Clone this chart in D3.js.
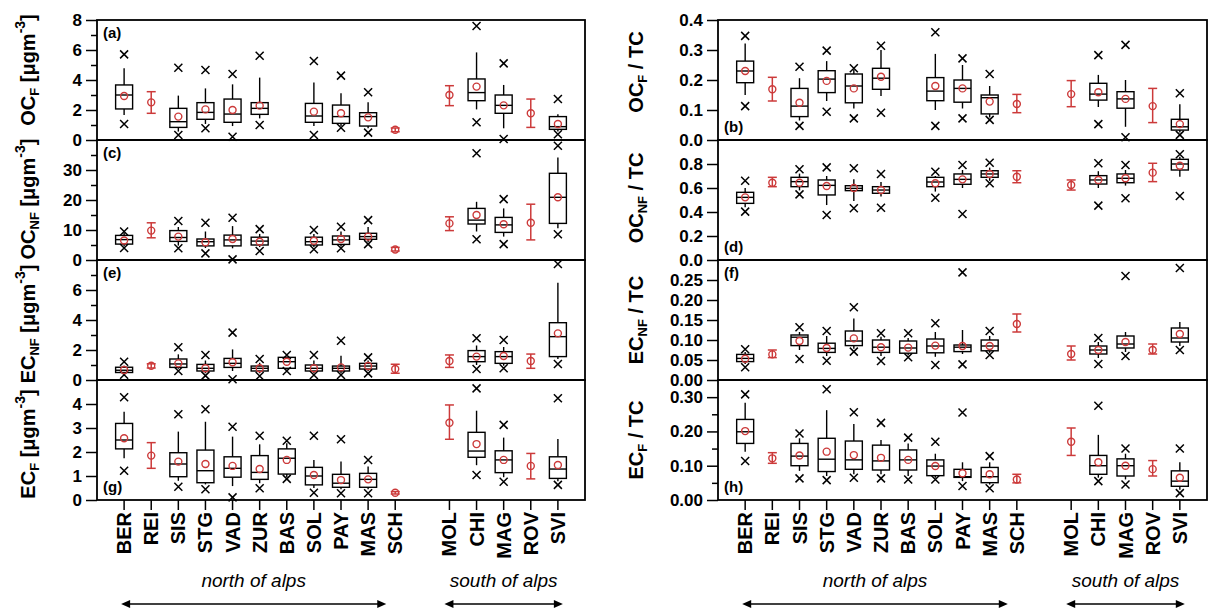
<!DOCTYPE html>
<html><head><meta charset="utf-8">
<script src="https://cdn.jsdelivr.net/npm/d3@7"></script>
<style>body{margin:0;background:#fff} svg{display:block} text{font-family:Arial,"Liberation Sans",sans-serif}</style>
</head><body><svg id="c" width="1208" height="612"></svg>
<script>
// stations (a gap slot separates north and south)
const northStations = ["BER","REI","SIS","STG","VAD","ZUR","BAS","SOL","PAY","MAS","SCH"];
const southStations = ["MOL","CHI","MAG","ROV","SVI"];
const stations = northStations.concat(southStations);
// box rows: [lowX, whiskerLo, q1, median, q3, whiskerHi, highX, mean]; 3-value rows: [errLo, mean, errHi]
const ocF = [
 [1.07,1.67,2.07,3.0,3.67,4.78,5.71,2.93],[1.78,2.51,3.22],
 [0.33,0.56,0.84,1.22,2.11,2.96,4.82,1.56],[0.78,1.07,1.38,1.84,2.49,3.44,4.67,2.04],
 [0.22,0.93,1.18,1.73,2.73,3.71,4.4,2.0],[1.0,1.44,1.71,2.11,2.49,4.16,5.62,2.29],null,
 [0.33,0.93,1.18,1.6,2.44,3.84,5.27,1.89],[0.82,0.93,1.11,1.56,2.33,3.11,4.29,1.78],
 [0.49,0.78,0.93,1.56,1.82,2.51,3.18,1.51],[0.55,0.68,0.8],
 [2.29,3.0,3.62],[1.18,2.04,2.62,3.16,4.07,5.84,7.6,3.56],[0.07,0.78,1.78,2.31,3.0,3.67,5.11,2.31],
 [0.84,1.78,2.73],[0.38,0.56,0.71,0.89,1.56,1.71,2.73,1.07]];
const ocNF = [
 [4.0,4.6,5.3,6.8,8.2,9.0,9.5,6.5],[7.4,9.8,12.4],
 [3.9,4.8,6.2,7.5,9.8,11.0,13.0,7.8],[2.2,4.0,4.7,6.1,7.0,9.5,12.4,5.9],
 [0.2,3.9,4.7,6.7,8.3,11.3,14.1,7.0],[3.0,4.3,5.0,6.3,7.6,8.7,10.3,6.1],null,
 [3.6,4.3,5.0,6.1,7.6,8.7,10.0,6.4],[3.9,4.5,5.2,6.7,8.0,9.5,11.1,7.0],
 [5.3,6.0,6.9,7.8,8.9,11.0,13.3,7.8],[3.0,3.5,4.2],
 [9.8,12.2,14.4],[6.9,9.5,12.0,13.3,17.2,19.4,35.6,15.0],[5.3,7.8,9.2,11.7,14.2,17.2,20.3,11.9],
 [6.7,12.4,18.6],[8.6,10.6,12.2,20.9,28.9,34.2,38.1,20.9]];
const ecNF = [
 [0.35,0.42,0.5,0.65,0.85,0.95,1.22,0.67],[0.8,0.95,1.08],
 [0.6,0.75,0.84,1.07,1.4,1.71,2.18,1.11],[0.29,0.45,0.6,0.78,1.04,1.3,1.67,0.78],
 [0.05,0.6,0.84,1.11,1.44,2.04,3.16,1.18],[0.27,0.45,0.6,0.78,0.93,1.15,1.4,0.78],
 [0.6,0.7,0.78,1.22,1.51,1.55,1.67,1.22],
 [0.33,0.45,0.6,0.78,1.0,1.3,1.67,0.78],[0.33,0.45,0.6,0.78,0.93,1.62,2.62,0.84],
 [0.44,0.6,0.73,0.93,1.11,1.3,1.51,0.93],[0.45,0.73,1.05],
 [0.84,1.27,1.67],[0.73,1.0,1.22,1.56,1.96,2.3,2.78,1.56],[0.78,0.95,1.11,1.56,1.89,2.2,2.67,1.6],
 [0.78,1.27,1.73],[1.07,1.4,1.56,2.89,3.82,6.49,7.73,3.11]];
const ecF = [
 [1.22,1.74,2.13,2.5,3.19,3.68,4.28,2.57],[1.32,1.85,2.39],
 [0.55,0.8,0.97,1.5,1.97,2.85,3.57,1.6],[0.45,0.65,0.72,1.22,2.08,3.26,3.78,1.5],
 [0.11,0.58,0.95,1.32,1.8,2.64,3.05,1.42],[0.49,0.7,0.86,1.15,1.85,2.32,2.68,1.29],
 [0.88,0.95,1.08,1.74,2.13,2.36,2.47,1.67],
 [0.3,0.5,0.63,1.0,1.36,1.67,2.68,1.04],[0.28,0.45,0.53,0.7,1.07,1.6,2.53,0.83],
 [0.28,0.45,0.53,0.86,1.11,1.4,1.67,0.86],[0.25,0.3,0.35],
 [2.53,3.22,3.96],[1.04,1.45,1.78,2.04,2.82,3.72,4.65,2.33],[0.76,0.95,1.14,1.67,2.05,2.6,3.13,1.67],
 [0.88,1.42,1.94],[0.63,0.78,0.9,1.29,1.8,2.54,4.24,1.46]];
const ocFtc = [
 [0.113,0.15,0.191,0.23,0.263,0.322,0.347,0.23],[0.13,0.169,0.209],
 [0.047,0.065,0.078,0.113,0.172,0.206,0.244,0.124],[0.094,0.13,0.158,0.203,0.231,0.263,0.298,0.197],
 [0.072,0.105,0.124,0.18,0.22,0.235,0.239,0.172],[0.091,0.147,0.169,0.206,0.239,0.3,0.314,0.211],null,
 [0.047,0.1,0.131,0.163,0.208,0.287,0.359,0.18],[0.072,0.105,0.126,0.172,0.2,0.25,0.272,0.172],
 [0.067,0.075,0.087,0.141,0.15,0.18,0.22,0.128],[0.091,0.12,0.152],
 [0.111,0.153,0.198],[0.053,0.11,0.133,0.153,0.189,0.217,0.283,0.159],[0.009,0.044,0.106,0.137,0.161,0.2,0.317,0.137],
 [0.058,0.113,0.172],[0.017,0.025,0.033,0.044,0.069,0.119,0.156,0.053]];
const ocNFtc = [
 [0.403,0.44,0.472,0.522,0.564,0.6,0.661,0.522],[0.611,0.644,0.689],
 [0.547,0.58,0.611,0.653,0.689,0.72,0.756,0.644],[0.375,0.458,0.542,0.622,0.667,0.7,0.772,0.617],
 [0.431,0.492,0.578,0.597,0.619,0.672,0.764,0.6],[0.436,0.53,0.556,0.583,0.611,0.65,0.717,0.583],null,
 [0.519,0.57,0.611,0.65,0.689,0.7,0.736,0.639],[0.383,0.6,0.631,0.672,0.717,0.75,0.792,0.672],
 [0.639,0.66,0.689,0.717,0.744,0.77,0.81,0.717],[0.644,0.694,0.744],
 [0.583,0.625,0.667],[0.453,0.6,0.633,0.667,0.703,0.74,0.806,0.667],[0.514,0.62,0.644,0.681,0.717,0.75,0.792,0.681],
 [0.653,0.728,0.806],[0.533,0.694,0.75,0.8,0.839,0.86,0.881,0.786]];
const ecNFtc = [
 [0.032,0.04,0.046,0.054,0.064,0.07,0.077,0.053],[0.056,0.064,0.075],
 [0.0525,0.075,0.086,0.107,0.1125,0.12,0.132,0.0975],[0.048,0.06,0.069,0.079,0.092,0.11,0.1225,0.08],
 [0.071,0.078,0.086,0.0975,0.1225,0.154,0.182,0.104],[0.0475,0.06,0.069,0.082,0.1,0.108,0.117,0.082],
 [0.057,0.062,0.067,0.08,0.0975,0.105,0.117,0.081],
 [0.0375,0.058,0.068,0.085,0.1025,0.12,0.142,0.086],[0.039,0.065,0.071,0.082,0.0875,0.125,0.269,0.085],
 [0.0625,0.068,0.073,0.085,0.1,0.11,0.1225,0.085],[0.12,0.14,0.165],
 [0.05,0.065,0.085],[0.04,0.055,0.065,0.075,0.085,0.095,0.105,0.075],[0.06,0.07,0.08,0.09,0.11,0.12,0.26,0.095],
 [0.065,0.075,0.09],[0.075,0.085,0.095,0.105,0.13,0.145,0.28,0.115]];
const ecFtc = [
 [0.114,0.141,0.165,0.199,0.235,0.284,0.308,0.201],[0.107,0.1215,0.138],
 [0.063,0.085,0.1,0.128,0.165,0.18,0.194,0.13],[0.058,0.07,0.083,0.119,0.18,0.262,0.323,0.141],
 [0.065,0.075,0.0895,0.117,0.172,0.222,0.256,0.131],[0.063,0.075,0.0875,0.114,0.16,0.175,0.225,0.123],
 [0.06,0.07,0.0875,0.117,0.146,0.165,0.182,0.117],
 [0.06,0.065,0.071,0.099,0.117,0.135,0.17,0.099],[0.041,0.055,0.066,0.068,0.0895,0.11,0.255,0.078],
 [0.034,0.045,0.0505,0.068,0.095,0.11,0.128,0.075],[0.05,0.06,0.075],
 [0.13,0.17,0.21],[0.055,0.065,0.075,0.1,0.13,0.19,0.275,0.11],[0.045,0.06,0.07,0.1,0.12,0.135,0.15,0.1],
 [0.07,0.09,0.115],[0.02,0.03,0.04,0.055,0.085,0.11,0.15,0.065]];
// axis ticks
const ticksA = [0,2,4,6,8], ticksC = [0,10,20,30,40], ticksE = [0,2,4,6,8], ticksG = [0,1,2,3,4,5];
const ticksB = [0,0.1,0.2,0.3,0.4], ticksD = [0,0.2,0.4,0.6,0.8,1.0], ticksF = [0,0.05,0.1,0.15,0.2,0.25,0.3], ticksH = [0,0.1,0.2,0.3];

const RED = "#cc3a3a";
const svg = d3.select("#c");
const rows = [[20,140],[140,260],[260,380],[380,500]];
const cols = [[97,585],[718,1207]];
const slots = northStations.concat(["_gap"], southStations);

const panels = [
 {col:0,row:0,data:ocF,dom:[0,8],ticks:ticksA,fmt:d3.format("d"),minor:1,lab:"(a)",lp:"top",title:["OC","F"," [μgm","-3","]"],toff:-10},
 {col:0,row:1,data:ocNF,dom:[0,40],ticks:ticksC,fmt:d3.format("d"),minor:5,lab:"(c)",lp:"top",title:["OC","NF"," [μgm","-3","]"],toff:-1},
 {col:0,row:2,data:ecNF,dom:[0,8],ticks:ticksE,fmt:d3.format("d"),minor:1,lab:"(e)",lp:"top",title:["EC","NF"," [μgm","-3","]"],toff:4},
 {col:0,row:3,data:ecF,dom:[0,5],ticks:ticksG,fmt:d3.format("d"),minor:null,lab:"(g)",lp:"bottom",title:["EC","F"," [μgm","-3","]"],toff:4},
 {col:1,row:0,data:ocFtc,dom:[0,0.4],ticks:ticksB,fmt:d3.format(".1f"),minor:null,lab:"(b)",lp:"bottom",title:["OC","F"," / TC"],toff:-8},
 {col:1,row:1,data:ocNFtc,dom:[0,1.0],ticks:ticksD,fmt:d3.format(".1f"),minor:null,lab:"(d)",lp:"bottom",title:["OC","NF"," / TC"],toff:-2},
 {col:1,row:2,data:ecNFtc,dom:[0,0.3],ticks:ticksF,fmt:d3.format(".2f"),minor:null,lab:"(f)",lp:"top",title:["EC","NF"," / TC"],toff:0},
 {col:1,row:3,data:ecFtc,dom:[0,0.35],ticks:ticksH,fmt:d3.format(".2f"),minor:0.05,lab:"(h)",lp:"bottom",title:["EC","F"," / TC"],toff:0}
];

panels.forEach(p => {
  const [x0,x1] = cols[p.col], [y0,y1] = rows[p.row];
  const x = d3.scalePoint().domain(slots).range([x0,x1]).padding(1);
  const y = d3.scaleLinear().domain(p.dom).range([y1,y0]);
  const g = svg.append("g");
  // y axis
  const showTicks = p.ticks.filter(t => !(p.row>0 && Math.abs(t-p.dom[1])<1e-9));
  const ax = g.append("g").attr("transform",`translate(${x0},0)`)
    .call(d3.axisLeft(y).tickValues(showTicks).tickFormat(p.fmt).tickSize(11).tickPadding(4));
  ax.select(".domain").remove();
  ax.selectAll("line").attr("stroke","#000").attr("stroke-width",1.5);
  ax.selectAll("text").attr("font-size",17).attr("font-weight","bold").attr("fill","#000")
    .attr("font-family","Arial, 'Liberation Sans', sans-serif");
  if (p.minor) {
    const mins = d3.range(p.dom[0]+p.minor, p.dom[1], p.minor*2);
    g.append("g").attr("transform",`translate(${x0},0)`)
      .call(d3.axisLeft(y).tickValues(mins).tickFormat("").tickSize(6))
      .call(a => { a.select(".domain").remove(); a.selectAll("line").attr("stroke","#000").attr("stroke-width",1.5); });
  }
  // marks
  stations.forEach((s,i) => {
    const d = p.data[i];
    if (!d) return;
    const cx = x(s);
    if (d.length === 3) {
      const [lo,m,hi] = d;
      g.append("line").attr("x1",cx).attr("x2",cx).attr("y1",y(lo)).attr("y2",y(hi)).attr("stroke",RED).attr("stroke-width",1.5);
      [lo,hi].forEach(v => g.append("line").attr("x1",cx-4.5).attr("x2",cx+4.5).attr("y1",y(v)).attr("y2",y(v)).attr("stroke",RED).attr("stroke-width",1.5));
      g.append("circle").attr("cx",cx).attr("cy",y(m)).attr("r",3.5).attr("fill","none").attr("stroke",RED).attr("stroke-width",1.4);
    } else {
      const [mn,wl,q1,md,q3,wh,mx,mean] = d;
      const hw = 8.5;
      g.append("line").attr("x1",cx).attr("x2",cx).attr("y1",y(wl)).attr("y2",y(q1)).attr("stroke","#000").attr("stroke-width",1.4);
      g.append("line").attr("x1",cx).attr("x2",cx).attr("y1",y(q3)).attr("y2",y(wh)).attr("stroke","#000").attr("stroke-width",1.4);
      g.append("rect").attr("x",cx-hw).attr("width",hw*2).attr("y",y(q3)).attr("height",Math.max(0.5,y(q1)-y(q3)))
        .attr("fill","none").attr("stroke","#000").attr("stroke-width",1.4);
      g.append("line").attr("x1",cx-hw).attr("x2",cx+hw).attr("y1",y(md)).attr("y2",y(md)).attr("stroke","#000").attr("stroke-width",1.4);
      [mn,mx].forEach(v => {
        const yy = y(v), r = 4;
        g.append("path").attr("d",`M${cx-r},${yy-r}L${cx+r},${yy+r}M${cx-r},${yy+r}L${cx+r},${yy-r}`)
          .attr("stroke","#000").attr("stroke-width",1.5).attr("fill","none");
      });
      g.append("circle").attr("cx",cx).attr("cy",y(mean)).attr("r",3.5).attr("fill","none").attr("stroke",RED).attr("stroke-width",1.4);
    }
  });
  // frame
  g.append("rect").attr("x",x0).attr("y",y0).attr("width",x1-x0).attr("height",y1-y0)
    .attr("fill","none").attr("stroke","#000").attr("stroke-width",1.8);
  // panel label
  g.append("text").attr("x",x0+6).attr("y",p.lp==="top"? y0+18 : y1-8)
    .attr("font-size",15).attr("font-weight","bold").text(p.lab);
  // y title
  const tx = p.col===0 ? 35 : 643;
  const t = g.append("text").attr("transform",`translate(${tx},${(y0+y1)/2 + p.toff}) rotate(-90)`)
    .attr("text-anchor","middle").attr("font-size",20).attr("font-weight","bold");
  t.append("tspan").text(p.title[0]);
  t.append("tspan").attr("font-size",13).attr("dy",4).text(p.title[1]);
  t.append("tspan").attr("dy",-4).text(p.title[2]);
  if (p.title.length > 3) {
    t.append("tspan").attr("font-size",14).attr("dy",-10).text(p.title[3]);
    t.append("tspan").attr("dy",10).text(p.title[4]);
  }
  // bottom axis
  if (p.row === 3) {
    const bx = g.append("g");
    stations.forEach(s => {
      const cx = x(s);
      bx.append("line").attr("x1",cx).attr("x2",cx).attr("y1",y1).attr("y2",y1+10).attr("stroke","#000").attr("stroke-width",1.5);
      bx.append("text").attr("transform",`translate(${cx+7},${y1+12}) rotate(-90)`).attr("text-anchor","end")
        .attr("font-size",20).attr("font-weight","bold").text(s);
    });
    const regions = [[northStations, "north of alps", -3, -9], [southStations, "south of alps", -5, 5]];
    regions.forEach(([st, label, o1, o2]) => {
      const a = x(st[0]) + o1, b = x(st[st.length-1]) + o2;
      bx.append("text").attr("x",(a+b)/2).attr("y",587).attr("text-anchor","middle")
        .attr("font-size",19).attr("font-style","italic").text(label);
      const ay = 604;
      bx.append("line").attr("x1",a+7).attr("x2",b-7).attr("y1",ay).attr("y2",ay).attr("stroke","#000").attr("stroke-width",1.5);
      bx.append("path").attr("d",`M${a},${ay}L${a+9},${ay-4}L${a+9},${ay+4}Z`).attr("fill","#000");
      bx.append("path").attr("d",`M${b},${ay}L${b-9},${ay-4}L${b-9},${ay+4}Z`).attr("fill","#000");
    });
  }
});
</script></body></html>
